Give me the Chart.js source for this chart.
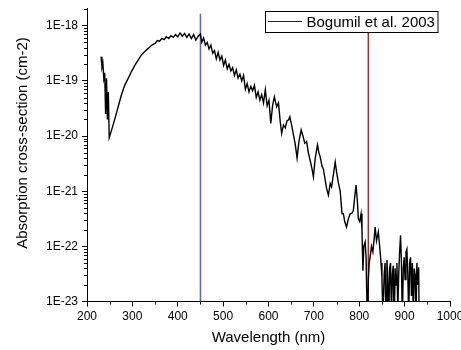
<!DOCTYPE html>
<html>
<head>
<meta charset="utf-8">
<script src="https://cdn.jsdelivr.net/npm/chart.js@4"></script>
<style>
  body { margin: 0; background: #fff; }
</style>
</head>
<body>
<canvas id="myChart" width="461" height="350"></canvas>
<script>
// wavelength in nm
const wavelength = [
  231, 233, 235, 237, 239, 241, 243, 245, 247, 249,
  255, 262, 269, 276, 283, 291, 298, 306, 313, 320,
  328, 335, 340, 345, 350, 355, 360, 365, 370, 375,
  380, 385, 390, 395, 400, 405, 410, 415, 420, 425,
  430, 435, 440, 445, 450, 453, 457, 461, 465, 469,
  473, 477, 481, 485, 489, 493, 497, 501, 505, 509,
  513, 517, 521, 525, 529, 533, 537, 541, 545, 549,
  553, 557, 561, 565, 569, 573, 577, 581, 585, 589,
  593, 597, 601, 605, 609, 613, 618, 622, 626, 629,
  633, 637, 641, 644, 647, 651, 655, 659, 663, 667,
  672, 676, 680, 684, 688, 692, 696, 699, 703, 708,
  711, 714, 718, 721, 725, 728, 732, 736, 739, 743,
  747, 750, 754, 758, 762, 765, 768, 772, 776, 780,
  784, 787, 790, 793, 796, 798, 801, 804, 806, 808,
  810, 813, 815, 818, 820, 822, 824, 827, 830, 833,
  835, 838, 842, 845, 848, 850, 852, 855, 857, 859,
  861, 863, 865, 867, 869, 871, 873, 875, 877, 879,
  881, 883, 885, 887, 889, 891, 893, 895, 897, 899,
  901, 903, 905, 907, 909, 911, 913, 915, 917, 919,
  921, 923, 925, 927, 929, 931, 932
];
// cross-section, written as its power of ten (log10 of cm-2 value)
const sigmaExp = [
  -18.56, -18.75, -18.68, -18.95, -18.85, -19.6, -18.95, -19.7, -19.2, -20.03,
  -19.87, -19.67, -19.46, -19.25, -19.08, -18.95, -18.83, -18.71, -18.62, -18.53,
  -18.46, -18.41, -18.37, -18.34, -18.32, -18.27, -18.28, -18.23, -18.25, -18.2,
  -18.23, -18.18, -18.21, -18.16, -18.2, -18.13, -18.19, -18.14, -18.21, -18.15,
  -18.23, -18.16, -18.26, -18.19, -18.15, -18.3, -18.22, -18.35, -18.3, -18.42,
  -18.35, -18.5, -18.45, -18.6, -18.48, -18.62, -18.55, -18.72, -18.62, -18.78,
  -18.7, -18.82, -18.76, -18.9, -18.8, -18.95, -18.88, -19.0, -18.9, -19.15,
  -19.05, -19.2, -19.1, -19.18, -19.08, -19.3, -19.2, -19.35, -19.25, -19.4,
  -19.16, -19.45, -19.35, -19.77, -19.45, -19.29, -19.47, -19.4, -19.75, -19.95,
  -19.8, -19.85, -19.72, -19.71, -19.65, -19.8, -19.98, -20.15, -20.4, -20.1,
  -19.89, -20.0, -20.13, -20.1, -20.31, -20.45, -20.6, -20.74, -20.4, -20.16,
  -20.3, -20.38, -20.55, -20.6, -20.8, -20.95, -21.07, -20.86, -20.92, -20.7,
  -20.47, -20.65, -20.85, -21.0, -21.41, -21.41, -21.55, -21.65, -21.5, -21.41,
  -21.4, -21.35, -21.1, -20.89, -21.2, -21.5, -21.55, -21.41, -21.7, -22.44,
  -22.0, -21.92, -22.2, -23.5, -22.6, -22.3, -22.19, -22.0, -22.1, -21.85,
  -21.65, -21.9, -21.74, -22.0, -22.3, -22.56, -23.3, -22.5, -22.3, -23.5,
  -22.25, -22.6, -23.4, -22.4, -22.3, -23.3, -22.5, -22.35, -23.5, -22.4,
  -22.7, -22.3, -23.2, -22.5, -22.1, -21.8, -22.3, -23.4, -22.4, -22.2,
  -22.6, -22.1, -22.05, -22.5, -23.3, -22.3, -22.2, -22.9, -22.3, -23.2,
  -22.4, -22.5, -23.4, -22.3, -22.7, -22.38, -23.5
];
const seriesName = 'Bogumil et al. 2003';
const markerLines = [450, 820];
const yTicks = [1e-23, 1e-22, 1e-21, 1e-20, 1e-19, 1e-18];
const xTicks = [200, 300, 400, 500, 600, 700, 800, 900, 1000];

const FONT = '"Liberation Sans", Arial, sans-serif';
const yMin = 1e-23, yMax = 2.1e-18, lineTop = 1.65e-18;

const mainData = wavelength.map((w, i) => ({ x: w, y: Math.pow(10, sigmaExp[i]) }));

// minor ticks, legend box and y title
const extras = {
  id: 'extras',
  afterDraw(chart) {
    const ctx = chart.ctx;
    const xs = chart.scales.x, ys = chart.scales.y;
    const area = chart.chartArea;
    ctx.save();
    ctx.strokeStyle = '#000';
    ctx.lineWidth = 1;
    ctx.beginPath();
    for (let e = -23; e <= -18; e++) {
      for (let k = 2; k <= 9; k++) {
        const v = k * Math.pow(10, e);
        if (v > yMax) continue;
        const py = Math.round(ys.getPixelForValue(v)) + 0.5;
        ctx.moveTo(area.left - 3, py);
        ctx.lineTo(area.left, py);
      }
    }
    for (let v = 250; v < 1000; v += 100) {
      const px = Math.round(xs.getPixelForValue(v)) + 0.5;
      ctx.moveTo(px, area.bottom);
      ctx.lineTo(px, area.bottom + 3);
    }
    ctx.stroke();

    // legend
    const lx = 265.5, ly = 11.5, lw = 172.5, lh = 21;
    ctx.fillStyle = '#fff';
    ctx.fillRect(lx, ly, lw, lh);
    ctx.strokeRect(lx, ly, lw, lh);
    ctx.beginPath();
    ctx.strokeStyle = '#222';
    ctx.moveTo(268, 21.5);
    ctx.lineTo(302, 21.5);
    ctx.stroke();
    ctx.fillStyle = '#000';
    ctx.font = '15px ' + FONT;
    ctx.textBaseline = 'middle';
    ctx.textAlign = 'left';
    ctx.fillText(chart.data.datasets[0].label, 306.5, 22.5);

    // y title
    ctx.translate(23, 143);
    ctx.rotate(-Math.PI / 2);
    ctx.textAlign = 'center';
    ctx.fillText('Absorption cross-section (cm-2)', 0, 0);
    ctx.restore();
  }
};

new Chart('myChart', {
  type: 'line',
  data: {
    datasets: [
      {
        label: seriesName,
        data: mainData,
        borderColor: '#000',
        borderWidth: 1.4,
        pointRadius: 0,
        tension: 0
      },
      {
        label: 'blue',
        data: [{ x: markerLines[0], y: yMin }, { x: markerLines[0], y: lineTop }],
        borderColor: 'rgb(90,90,255)',
        borderWidth: 1.5,
        pointRadius: 0
      },
      {
        label: 'red',
        data: [{ x: markerLines[1], y: yMin }, { x: markerLines[1], y: lineTop }],
        borderColor: 'rgb(185,35,35)',
        borderWidth: 1.5,
        pointRadius: 0
      }
    ]
  },
  options: {
    responsive: false,
    animation: false,
    layout: { padding: { top: 8, right: 11, left: 0, bottom: 0 } },
    plugins: { legend: { display: false }, tooltip: { enabled: false } },
    scales: {
      x: {
        type: 'linear',
        min: 200,
        max: 1000,
        afterBuildTicks(s) { s.ticks = xTicks.map(v => ({ value: v })); },
        afterFit(s) { s.paddingLeft = 0; s.paddingRight = 0; s.height = 48.5; },
        ticks: { color: '#000', font: { size: 12, family: FONT }, padding: 3, maxRotation: 0, autoSkip: false,
          callback: v => String(v) },
        grid: { display: true, drawOnChartArea: false, tickLength: 5, color: '#000' },
        border: { color: '#000', width: 1 },
        title: { display: true, text: 'Wavelength (nm)', color: '#000', font: { size: 15, family: FONT }, padding: { top: 5, bottom: 3 } }
      },
      y: {
        type: 'logarithmic',
        min: yMin,
        max: yMax,
        afterBuildTicks(s) { s.ticks = yTicks.map(v => ({ value: v })); },
        afterFit(s) { s.width = 87; s.paddingTop = 0; s.paddingBottom = 0; },
        ticks: {
          color: '#000',
          font: { size: 12, family: FONT },
          padding: 4,
          callback: v => '1E' + Math.round(Math.log10(v))
        },
        grid: { display: true, drawOnChartArea: false, tickLength: 5, color: '#000' },
        border: { color: '#000', width: 1 }
      }
    }
  },
  plugins: [extras]
});
</script>
</body>
</html>
